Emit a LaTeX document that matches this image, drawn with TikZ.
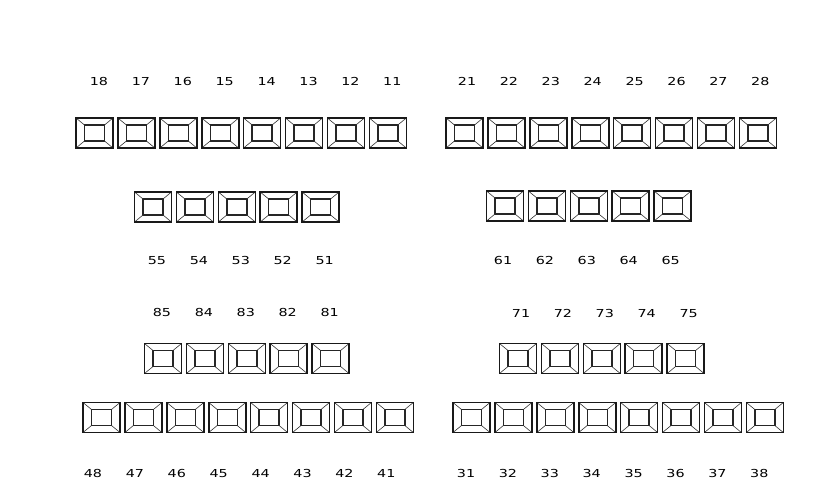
\documentclass[tikz,border=0pt]{standalone}
\usepackage{fontspec}
\setmainfont{DejaVu Sans}[FakeStretch=1.3]
\usetikzlibrary{positioning}

\begin{document}
\begin{tikzpicture}[
  x = 1pt, y = -1pt,
  tooth/.style = {rectangle, draw=black!90, line width=1.6pt, inner sep=0pt,
                  minimum width=37pt, minimum height=30pt,
                  path picture={
                    \draw[line width=1.4pt, black!85]
                      ([shift={(8.5pt,7pt)}]path picture bounding box.south west)
                      rectangle ([shift={(-8.5pt,-7pt)}]path picture bounding box.north east);
                    \draw[line width=0.6pt, black!80]
                      (path picture bounding box.south west) -- ++(8.5pt,7pt)
                      (path picture bounding box.south east) -- ++(-8.5pt,7pt)
                      (path picture bounding box.north west) -- ++(8.5pt,-7pt)
                      (path picture bounding box.north east) -- ++(-8.5pt,-7pt);}},
  num/.style   = {inner sep=0pt, text height=8pt, text depth=0pt,
                  font=\fontsize{11}{13}\selectfont, text=black}
]
\useasboundingbox (0,0) rectangle (835,498);
% upper permanent row
\foreach \t [count=\i from 0] in {18,17,16,15,14,13,12,11} {
  \node[tooth] (t\t) at (94.5+41.9*\i,133) {};
  \node[num]   (l\t) at (99+41.9*\i,81) {\t};
}
\foreach \t [count=\i from 0] in {21,22,23,24,25,26,27,28} {
  \node[tooth] (t\t) at (464.5+41.9*\i,133) {};
  \node[num]   (l\t) at (467+41.9*\i,81) {\t};
}
% upper primary row
\foreach \t [count=\i from 0] in {55,54,53,52,51} {
  \node[tooth] (t\t) at (153+41.9*\i,207) {};
  \node[num]   (l\t) at (157+41.9*\i,260) {\t};
}
\foreach \t [count=\i from 0] in {61,62,63,64,65} {
  \node[tooth] (t\t) at (505+41.9*\i,206) {};
  \node[num]   (l\t) at (503+41.9*\i,260) {\t};
}
% lower primary row
\foreach \t [count=\i from 0] in {85,84,83,82,81} {
  \node[tooth] (t\t) at (163+41.9*\i,358.5) {};
  \node[num]   (l\t) at (162+41.9*\i,312) {\t};
}
\foreach \t [count=\i from 0] in {71,72,73,74,75} {
  \node[tooth] (t\t) at (518+41.9*\i,358.5) {};
  \node[num]   (l\t) at (521+41.9*\i,313) {\t};
}
% lower permanent row
\foreach \t [count=\i from 0] in {48,47,46,45,44,43,42,41} {
  \node[tooth] (t\t) at (101.5+41.9*\i,417.5) {};
  \node[num]   (l\t) at (93+41.9*\i,473) {\t};
}
\foreach \t [count=\i from 0] in {31,32,33,34,35,36,37,38} {
  \node[tooth] (t\t) at (471.5+41.9*\i,417.5) {};
  \node[num]   (l\t) at (466+41.9*\i,473) {\t};
}
\end{tikzpicture}
\end{document}
